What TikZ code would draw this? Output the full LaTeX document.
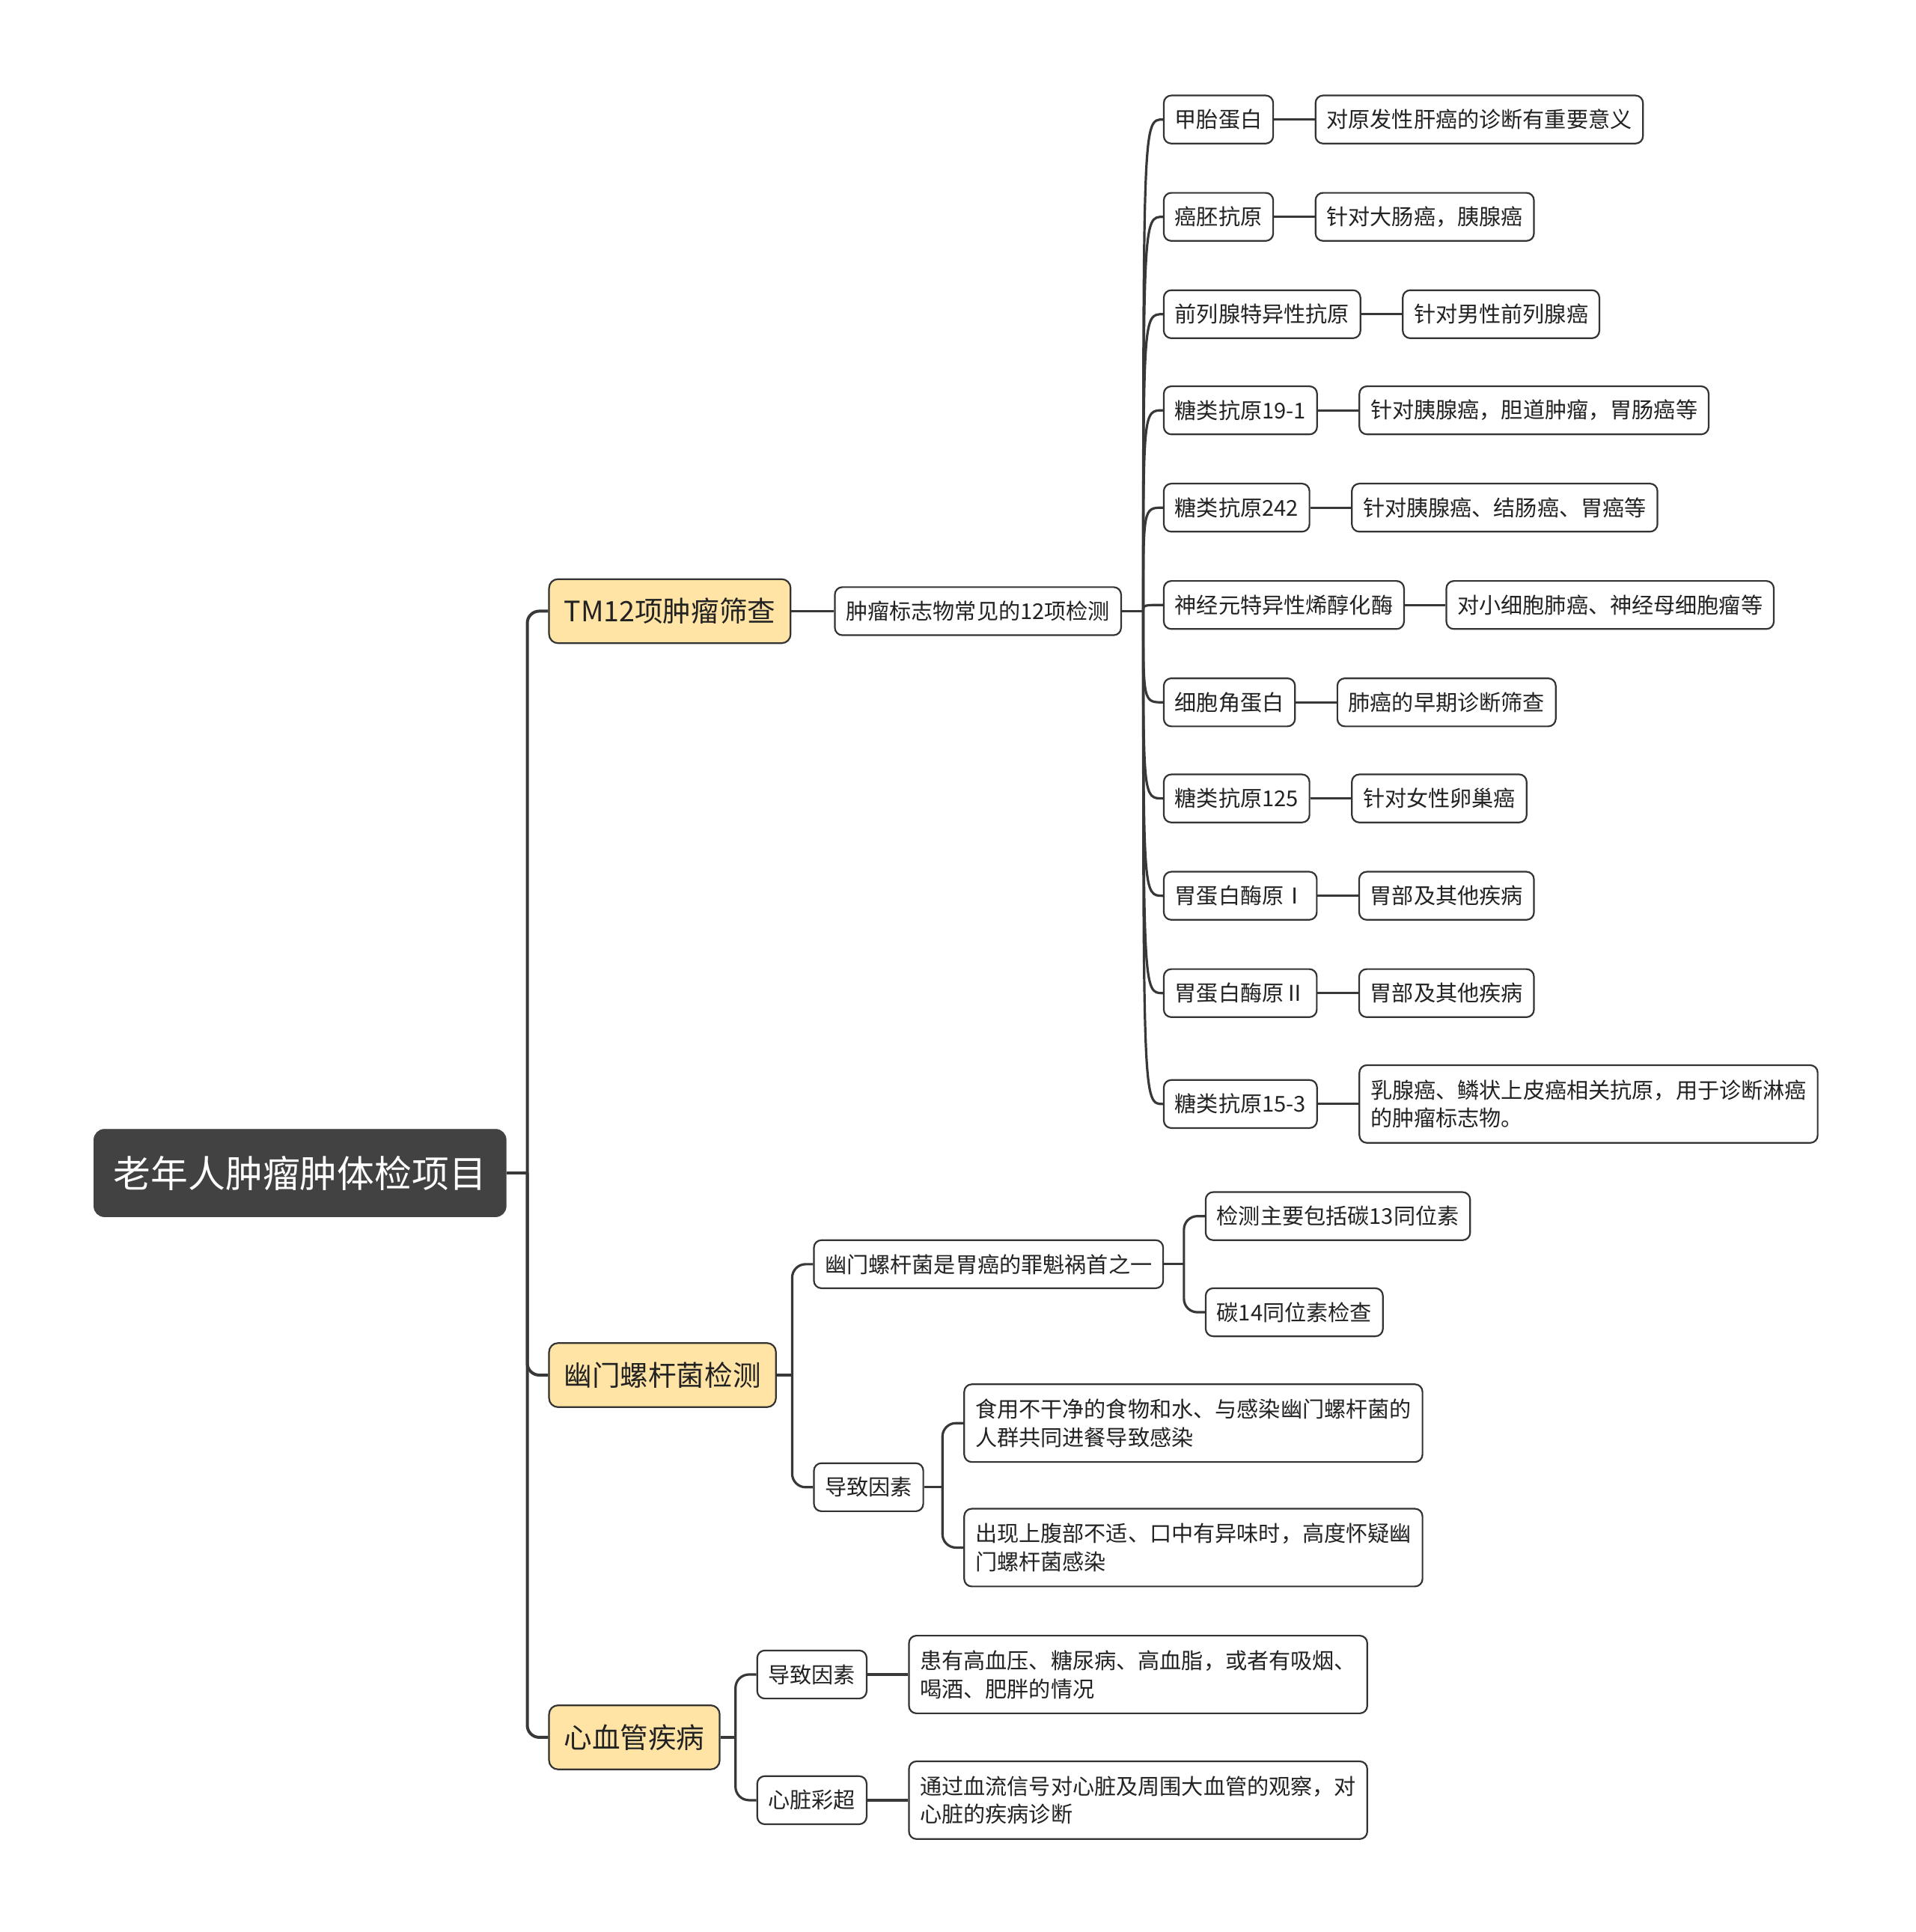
\documentclass[tikz,border=0pt]{standalone}
\usepackage{fontspec}
\setmainfont{Noto Sans CJK SC}
\usetikzlibrary{positioning}
\definecolor{lc}{HTML}{383838}
\definecolor{bc}{HTML}{333333}
\definecolor{tc}{HTML}{222222}
\definecolor{rootfill}{HTML}{424242}
\definecolor{topicfill}{HTML}{FFE4A6}
\begin{document}
\begin{tikzpicture}[x=0.82315pt,y=-0.82315pt,
 conn/.style={draw=lc,line width=1.6pt},
 spine/.style={draw=lc,line width=2pt},
 leafbox/.style={draw=bc,line width=1.1pt,rounded corners=5pt,fill=white,anchor=west,inner xsep=7.4pt,inner ysep=0pt,minimum height=32.1pt,text=tc,font=\fontsize{14.57pt}{18.9pt}\selectfont,align=left},
 tallbox/.style={leafbox,minimum height=51.9pt},
 topicbox/.style={draw=bc,line width=1.1pt,rounded corners=6pt,fill=topicfill,anchor=west,inner xsep=10pt,inner ysep=0pt,minimum height=42.8pt,text=tc,font=\fontsize{18.8pt}{22pt}\selectfont},
 rootbox/.style={draw=rootfill,fill=rootfill,rounded corners=7pt,anchor=west,inner xsep=13.2pt,inner ysep=0pt,minimum height=58.4pt,text=white,font=\fontsize{24.9pt}{28pt}\selectfont},
 node distance=27.2pt]
\useasboundingbox (0,0) rectangle (1555,1568);

% root and topics
\node[rootbox] (root) at (76,952) {老年人肿瘤肿体检项目};
\node[topicbox] (A) at (445,496) {TM12项肿瘤筛查};
\node[topicbox] (B) at (445,1116) {幽门螺杆菌检测};
\node[topicbox] (C) at (445,1410) {心血管疾病};

\coordinate (j0) at (428,952);
\draw[spine] (root.east) -- (j0);
\draw[spine,rounded corners=8pt] (j0) -- (j0|-A.west) -- (A.west);
\draw[spine,rounded corners=8pt] (j0) -- (j0|-B.west) -- (B.west);
\draw[spine,rounded corners=8pt] (j0) -- (j0|-C.west) -- (C.west);

% branch A
\node[leafbox] (m) at (677,496) {肿瘤标志物常见的12项检测};
\draw[conn] (A.east) -- (m.west);
\coordinate (jA) at (928,496);
\draw[conn] (m.east) -- (jA);

\node[leafbox] (l1) at (944,97) {甲胎蛋白};
\node[leafbox] (l2) at (944,176) {癌胚抗原};
\node[leafbox] (l3) at (944,255) {前列腺特异性抗原};
\node[leafbox] (l4) at (944,333) {糖类抗原19-1};
\node[leafbox] (l5) at (944,412) {糖类抗原242};
\node[leafbox] (l6) at (944,491) {神经元特异性烯醇化酶};
\node[leafbox] (l7) at (944,570) {细胞角蛋白};
\node[leafbox] (l8) at (944,648) {糖类抗原125};
\node[leafbox] (l9) at (944,727) {胃蛋白酶原Ⅰ};
\node[leafbox] (l10) at (944,806) {胃蛋白酶原Ⅱ};
\node[leafbox] (l11) at (944,896) {糖类抗原15-3};

\node[leafbox,right=of l1] (f1) {对原发性肝癌的诊断有重要意义};
\node[leafbox,right=of l2] (f2) {针对大肠癌，胰腺癌};
\node[leafbox,right=of l3] (f3) {针对男性前列腺癌};
\node[leafbox,right=of l4] (f4) {针对胰腺癌，胆道肿瘤，胃肠癌等};
\node[leafbox,right=of l5] (f5) {针对胰腺癌、结肠癌、胃癌等};
\node[leafbox,right=of l6] (f6) {对小细胞肺癌、神经母细胞瘤等};
\node[leafbox,right=of l7] (f7) {肺癌的早期诊断筛查};
\node[leafbox,right=of l8] (f8) {针对女性卵巢癌};
\node[leafbox,right=of l9] (f9) {胃部及其他疾病};
\node[leafbox,right=of l10] (f10) {胃部及其他疾病};
\node[tallbox,right=of l11] (f11) {乳腺癌、鳞状上皮癌相关抗原，用于诊断淋癌\\的肿瘤标志物。};

\foreach \i in {1,...,11}{
  \draw[conn] (jA) .. controls (jA|-l\i.west) .. (l\i.west);
  \draw[conn] (l\i.east) -- (f\i.west);
}

% branch B
\coordinate (jB) at (643,1116);
\draw[conn] (B.east) -- (jB);
\node[leafbox] (B1) at (660,1026) {幽门螺杆菌是胃癌的罪魁祸首之一};
\node[leafbox] (B2) at (660,1207) {导致因素};
\draw[conn,rounded corners=9pt] (jB) -- (jB|-B1.west) -- (B1.west);
\draw[conn,rounded corners=9pt] (jB) -- (jB|-B2.west) -- (B2.west);

\coordinate (jB1) at (961,1026);
\draw[conn] (B1.east) -- (jB1);
\node[leafbox] (B11) at (978,987) {检测主要包括碳13同位素};
\node[leafbox] (B12) at (978,1065) {碳14同位素检查};
\draw[conn,rounded corners=9pt] (jB1) -- (jB1|-B11.west) -- (B11.west);
\draw[conn,rounded corners=9pt] (jB1) -- (jB1|-B12.west) -- (B12.west);

\coordinate (jB2) at (765,1207);
\draw[conn] (B2.east) -- (jB2);
\node[tallbox] (B21) at (782,1155) {食用不干净的食物和水、与感染幽门螺杆菌的\\人群共同进餐导致感染};
\node[tallbox] (B22) at (782,1256) {出现上腹部不适、口中有异味时，高度怀疑幽\\门螺杆菌感染};
\draw[conn,rounded corners=9pt] (jB2) -- (jB2|-B21.west) -- (B21.west);
\draw[conn,rounded corners=9pt] (jB2) -- (jB2|-B22.west) -- (B22.west);

% branch C
\coordinate (jC) at (597,1410);
\draw[conn] (C.east) -- (jC);
\node[leafbox] (C1) at (614,1359) {导致因素};
\node[leafbox] (C2) at (614,1461) {心脏彩超};
\draw[conn,rounded corners=9pt] (jC) -- (jC|-C1.west) -- (C1.west);
\draw[conn,rounded corners=9pt] (jC) -- (jC|-C2.west) -- (C2.west);
\node[tallbox,right=of C1] (C11) {患有高血压、糖尿病、高血脂，或者有吸烟、\\喝酒、肥胖的情况};
\node[tallbox,right=of C2] (C21) {通过血流信号对心脏及周围大血管的观察，对\\心脏的疾病诊断};
\draw[conn] (C1.east) -- (C11.west);
\draw[conn] (C2.east) -- (C21.west);
\end{tikzpicture}
\end{document}
